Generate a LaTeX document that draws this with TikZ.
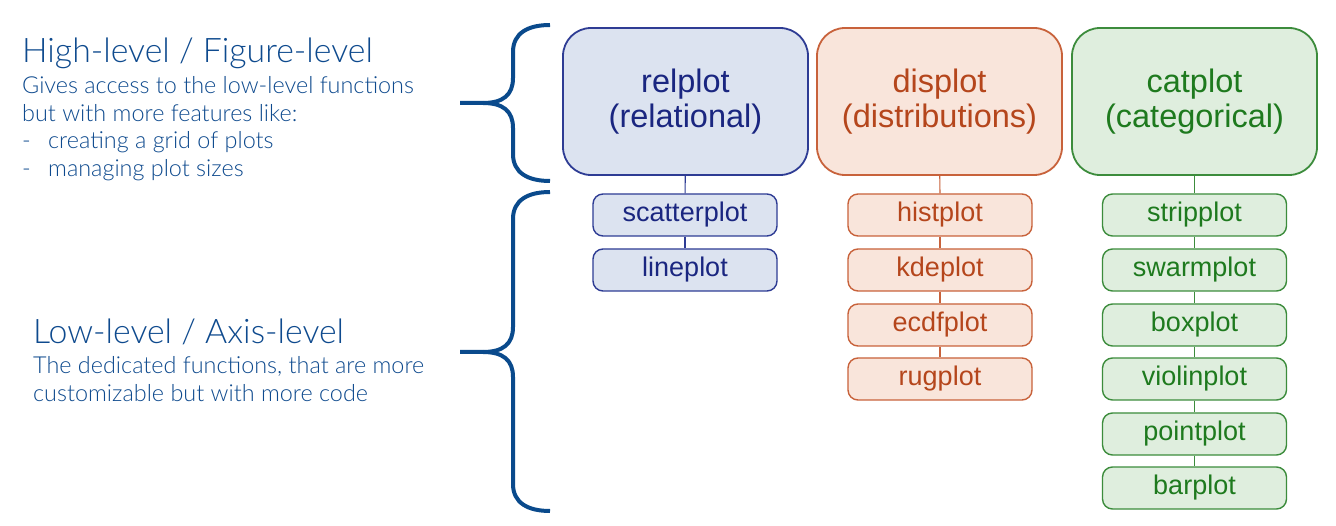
\documentclass[tikz,border=0pt]{standalone}
\usepackage{fontspec}
\setmainfont{Liberation Sans}
\newfontfamily\lightfont{Lato Light}
\begin{document}
\begin{tikzpicture}[x=1pt,y=-1pt,
  bigbox/.style={draw, line width=1.8pt, rounded corners=28pt, minimum width=245pt,
    minimum height=147pt, inner sep=0pt, align=center,
    font=\fontsize{32.5}{35}\selectfont},
  smallbox/.style={draw, line width=1.4pt, rounded corners=10pt, minimum width=184pt,
    minimum height=42pt, inner sep=0pt, font=\fontsize{27}{30}\selectfont},
  relstyle/.style={draw=relline, fill=relfill, text=reltext},
  disstyle/.style={draw=disline, fill=disfill, text=distext},
  catstyle/.style={draw=catline, fill=catfill, text=cattext},
  link/.style={line width=1.2pt},
  brace/.style={draw=bracecol, line width=4pt},
  title/.style={anchor=base west, inner sep=0pt, text=leftcol,
    font=\lightfont\fontsize{33.8}{40}\selectfont},
  body/.style={anchor=base west, inner sep=0pt, text=leftcol,
    font=\lightfont\fontsize{23.4}{26}\selectfont}]
\definecolor{relfill}{HTML}{DCE3F0}
\definecolor{relline}{HTML}{2E3C94}
\definecolor{reltext}{HTML}{1A2680}
\definecolor{disfill}{HTML}{F9E5DB}
\definecolor{disline}{HTML}{C8623B}
\definecolor{distext}{HTML}{B5461C}
\definecolor{catfill}{HTML}{DFEEDE}
\definecolor{catline}{HTML}{3C8C3C}
\definecolor{cattext}{HTML}{1E7A1E}
\definecolor{leftcol}{HTML}{0E4A8E}
\definecolor{bracecol}{HTML}{0A4A8C}

\useasboundingbox (0,0) rectangle (1336,526);
\fill[white] (0,0) rectangle (1336,526);

% left-hand descriptions
\node[title] (hl) at (22,62.3) {High-level / Figure-level};
\node[body] (hl1) at (22,94) {Gives access to the low-level functions};
\node[body] (hl2) at (22,121.5) {but with more features like:};
\node[body] (hld1) at (22,149) {-};
\node[body] (hl3) at (48,149) {creating a grid of plots};
\node[body] (hld2) at (22,176.5) {-};
\node[body] (hl4) at (48,176.5) {managing plot sizes};

\node[title] (ll) at (33,343.3) {Low-level / Axis-level};
\node[body] (ll1) at (33,373.3) {The dedicated functions, that are more};
\node[body] (ll2) at (33,401.5) {customizable but with more code};

% braces
\draw[brace] (550,25) .. controls (528,25) and (513,33) .. (513,52)
  -- (513,78) .. controls (513,95) and (503,103) .. (483,103) -- (460,103);
\draw[brace] (483,103) .. controls (503,103) and (513,111) .. (513,128)
  -- (513,154) .. controls (513,173) and (528,181) .. (550,181);
\draw[brace] (550,192) .. controls (528,192) and (513,200) .. (513,219)
  -- (513,327) .. controls (513,344) and (503,352) .. (483,352) -- (460,352);
\draw[brace] (483,352) .. controls (503,352) and (513,360) .. (513,377)
  -- (513,484) .. controls (513,503) and (528,511) .. (550,511);

% figure-level functions
\node[bigbox, relstyle] (rel) at (685.5,101.5) {relplot\\(relational)};
\node[bigbox, disstyle] (dis) at (939.5,101.5) {displot\\(distributions)};
\node[bigbox, catstyle] (cat) at (1194.5,101.5) {catplot\\(categorical)};

% axis-level functions
\node[smallbox, relstyle] (scatter) at (685,215) {scatterplot};
\node[smallbox, relstyle] (line) at (685,270) {lineplot};

\node[smallbox, disstyle] (hist) at (940,215) {histplot};
\node[smallbox, disstyle] (kde) at (940,270) {kdeplot};
\node[smallbox, disstyle] (ecdf) at (940,325) {ecdfplot};
\node[smallbox, disstyle] (rug) at (940,379) {rugplot};

\node[smallbox, catstyle] (strip) at (1194.5,215) {stripplot};
\node[smallbox, catstyle] (swarm) at (1194.5,270) {swarmplot};
\node[smallbox, catstyle] (box) at (1194.5,325) {boxplot};
\node[smallbox, catstyle] (violin) at (1194.5,379) {violinplot};
\node[smallbox, catstyle] (point) at (1194.5,434) {pointplot};
\node[smallbox, catstyle] (bar) at (1194.5,488) {barplot};

% vertical links
\draw[link, relline] (rel) -- (scatter);
\draw[link, relline] (scatter) -- (line);
\draw[link, disline] (dis) -- (hist);
\draw[link, disline] (hist) -- (kde);
\draw[link, disline] (kde) -- (ecdf);
\draw[link, disline] (ecdf) -- (rug);
\draw[link, catline] (cat) -- (strip);
\draw[link, catline] (strip) -- (swarm);
\draw[link, catline] (swarm) -- (box);
\draw[link, catline] (box) -- (violin);
\draw[link, catline] (violin) -- (point);
\draw[link, catline] (point) -- (bar);
\end{tikzpicture}
\end{document}
